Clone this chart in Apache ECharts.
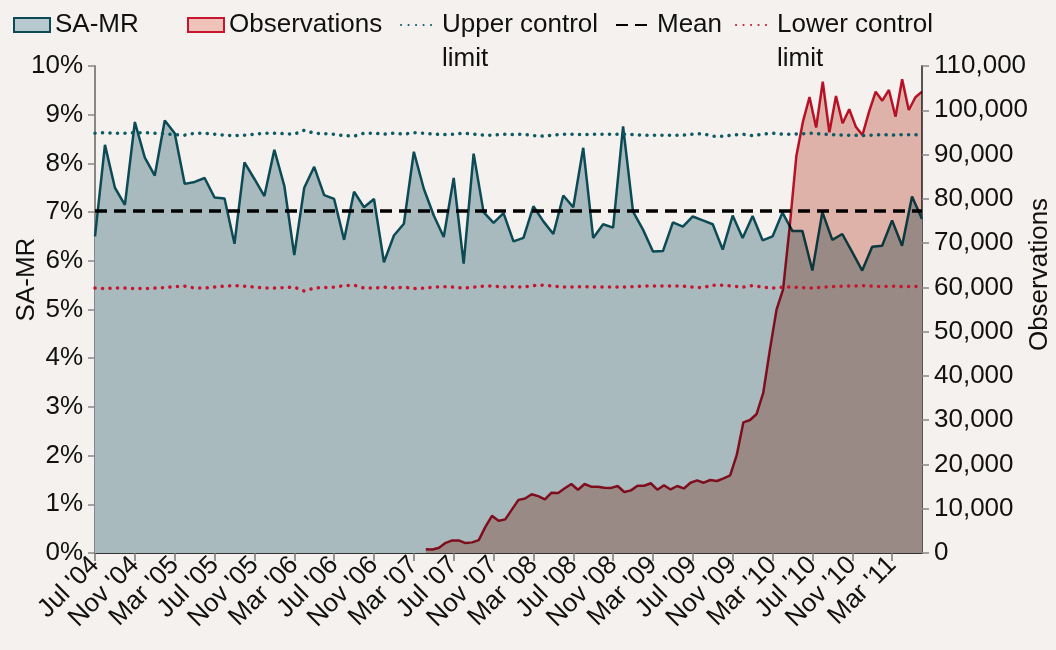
<!DOCTYPE html>
<html>
<head>
<meta charset="utf-8">
<script src="https://cdn.jsdelivr.net/npm/echarts@6/dist/echarts.min.js"></script>
<style>
  html, body { margin: 0; padding: 0; background: #f4f1ee; }
  #chart { width: 1056px; height: 650px; }
</style>
</head>
<body>
<div id="chart"></div>
<script>
// Monthly categories Jul '04 .. Jun '11
const months = [
  "Jul '04","Aug '04","Sep '04","Oct '04","Nov '04","Dec '04",
  "Jan '05","Feb '05","Mar '05","Apr '05","May '05","Jun '05","Jul '05","Aug '05","Sep '05","Oct '05","Nov '05","Dec '05",
  "Jan '06","Feb '06","Mar '06","Apr '06","May '06","Jun '06","Jul '06","Aug '06","Sep '06","Oct '06","Nov '06","Dec '06",
  "Jan '07","Feb '07","Mar '07","Apr '07","May '07","Jun '07","Jul '07","Aug '07","Sep '07","Oct '07","Nov '07","Dec '07",
  "Jan '08","Feb '08","Mar '08","Apr '08","May '08","Jun '08","Jul '08","Aug '08","Sep '08","Oct '08","Nov '08","Dec '08",
  "Jan '09","Feb '09","Mar '09","Apr '09","May '09","Jun '09","Jul '09","Aug '09","Sep '09","Oct '09","Nov '09","Dec '09",
  "Jan '10","Feb '10","Mar '10","Apr '10","May '10","Jun '10","Jul '10","Aug '10","Sep '10","Oct '10","Nov '10","Dec '10",
  "Jan '11","Feb '11","Mar '11","Apr '11","May '11","Jun '11"
];

// SA-MR (%), one value per month
const samr = [
  6.5, 8.38, 7.5, 7.15, 8.85, 8.12, 7.75, 8.88, 8.62, 7.58,
  7.62, 7.7, 7.3, 7.28, 6.35, 8.02, 7.68, 7.33, 8.28, 7.54,
  6.12, 7.5, 7.93, 7.35, 7.27, 6.43, 7.42, 7.1, 7.27, 5.97,
  6.52, 6.76, 8.24, 7.48, 6.93, 6.49, 7.7, 5.94, 8.2, 7.0,
  6.78, 6.98, 6.4, 6.47, 7.12, 6.81, 6.55, 7.34, 7.1, 8.32,
  6.47, 6.75, 6.68, 8.76, 7.01, 6.64, 6.19, 6.2, 6.79, 6.7,
  6.91, 6.83, 6.75, 6.23, 6.93, 6.47, 6.92, 6.42, 6.5, 6.99,
  6.61, 6.61, 5.8, 7.0, 6.43, 6.55, 6.18, 5.8, 6.29, 6.31,
  6.83, 6.31, 7.32, 6.86
];

// Upper / lower control limits (%), per month
const ucl = [
  8.62, 8.63, 8.62, 8.62, 8.63, 8.63, 8.62, 8.61, 8.59, 8.58,
  8.62, 8.62, 8.60, 8.58, 8.57, 8.58, 8.60, 8.62, 8.62, 8.61,
  8.60, 8.68, 8.62, 8.61, 8.60, 8.57, 8.56, 8.62, 8.62, 8.60,
  8.62, 8.60, 8.63, 8.62, 8.60, 8.59, 8.60, 8.62, 8.60, 8.58,
  8.58, 8.60, 8.59, 8.60, 8.57, 8.56, 8.58, 8.60, 8.60, 8.59,
  8.60, 8.60, 8.60, 8.60, 8.59, 8.58, 8.58, 8.58, 8.58, 8.58,
  8.60, 8.61, 8.56, 8.56, 8.58, 8.60, 8.57, 8.60, 8.62, 8.60,
  8.60, 8.61, 8.62, 8.60, 8.59, 8.58, 8.58, 8.57, 8.58, 8.59,
  8.58, 8.59, 8.59, 8.58
];
const lcl = [
  5.44, 5.43, 5.44, 5.44, 5.43, 5.43, 5.44, 5.45, 5.47, 5.48,
  5.44, 5.44, 5.46, 5.48, 5.49, 5.48, 5.46, 5.44, 5.44, 5.45,
  5.46, 5.38, 5.44, 5.45, 5.46, 5.49, 5.50, 5.44, 5.44, 5.46,
  5.44, 5.46, 5.43, 5.44, 5.46, 5.47, 5.46, 5.44, 5.46, 5.48,
  5.48, 5.46, 5.47, 5.46, 5.49, 5.50, 5.48, 5.46, 5.46, 5.47,
  5.46, 5.46, 5.46, 5.46, 5.47, 5.48, 5.48, 5.48, 5.48, 5.48,
  5.46, 5.45, 5.50, 5.50, 5.48, 5.46, 5.49, 5.46, 5.44, 5.46,
  5.46, 5.45, 5.44, 5.46, 5.47, 5.48, 5.48, 5.49, 5.48, 5.47,
  5.48, 5.47, 5.47, 5.48
];
const meanValue = 7.03;

// Observations: finer time grid (sub-monthly readings) on a hidden axis
const obsSlotCount = 126;      // reading slots covering the whole period
const obsFirstSlot = 50;       // first slot with an observation (Mar '07)
const observations = [
  850, 800, 1200, 2300, 2850, 2850, 2250, 2400, 2900, 5900,
  8400, 7300, 7600, 9800, 12000, 12300, 13260, 12850, 12130, 13620,
  13550, 14620, 15590, 14300, 15590, 14980, 14980, 14720, 14700, 15130,
  13780, 14150, 15170, 15200, 15750, 14300, 15320, 14350, 15130, 14580,
  15880, 16400, 15880, 16490, 16260, 16870, 17550, 22140, 29520, 30040,
  31400, 36150, 45860, 54890, 59570, 73700, 89600, 97430, 103000, 96100,
  106470, 95030, 103240, 97070, 100230, 96300, 94420, 99690, 104210, 102170,
  104590, 98560, 107010, 100070, 102940, 104210
];

const obsSlots = [];
const obsData = [];
for (let i = 0; i < obsSlotCount; i++) {
  obsSlots.push('s' + i);
  const k = i - obsFirstSlot;
  obsData.push(k >= 0 && k < observations.length ? observations[k] : null);
}

const FONT = "'Liberation Sans', Arial, sans-serif";
const FS = 26;
const TXT = '#111';
const C_SAMR_LINE = '#0c4a56';
const C_SAMR_AREA = '#a9babe';
const C_OBS_LINE = '#c8152f';
const C_OBS_AREA = '#e8bdb4';
const C_UCL = '#0d5a63';
const C_LCL = '#c8152f';

const chart = echarts.init(document.getElementById('chart'), null, { renderer: 'canvas' });

const richBase = { fontSize: FS, fontFamily: FONT, color: TXT, lineHeight: 34 };
const legendText = {
  'SA-MR': '{a|SA-MR}',
  'Observations': '{b|Observations}',
  'Upper control limit': '{c| }\n{c|Upper control}\n{c|limit}',
  'Mean': '{d|Mean}',
  'Lower control limit': '{e| }\n{e|Lower control}\n{e|limit}'
};

chart.setOption({
  backgroundColor: '#f4f1ee',
  animation: false,
  textStyle: { fontFamily: FONT },
  legend: {
    left: 8,
    top: -31,
    itemWidth: 36,
    itemHeight: 14,
    itemGap: 8,
    textStyle: {
      fontSize: FS, color: TXT, fontFamily: FONT, lineHeight: 34,
      rich: {
        a: Object.assign({ width: 124 }, richBase),
        b: Object.assign({ width: 163 }, richBase),
        c: Object.assign({ width: 165 }, richBase),
        d: Object.assign({ width: 70 }, richBase),
        e: Object.assign({}, richBase)
      }
    },
    formatter: name => legendText[name] || name,
    data: [
      { name: 'SA-MR', icon: 'rect', itemStyle: { color: '#b7c8ce', borderColor: C_SAMR_LINE, borderWidth: 2 } },
      { name: 'Observations', icon: 'rect', itemStyle: { color: '#f0c3ba', borderColor: C_OBS_LINE, borderWidth: 2 } },
      { name: 'Upper control limit', itemStyle: { opacity: 0 } },
      { name: 'Mean', itemStyle: { opacity: 0 } },
      { name: 'Lower control limit', itemStyle: { opacity: 0 } }
    ]
  },
  grid: { left: 95, right: 134, top: 66, bottom: 97, outerBoundsMode: 'none', containLabel: false },
  xAxis: [
    {
      type: 'category',
      data: months,
      boundaryGap: false,
      axisLine: { show: true, lineStyle: { color: '#333', width: 2 } },
      axisTick: { show: true, interval: 3, length: 8, lineStyle: { color: '#777', width: 1.5 } },
      axisLabel: { interval: 3, rotate: 45, fontSize: FS, color: TXT, margin: 8, fontFamily: FONT },
      splitLine: { show: false }
    },
    {
      type: 'category',
      data: obsSlots,
      boundaryGap: false,
      show: false
    }
  ],
  yAxis: [
    {
      type: 'value',
      min: 0, max: 10, interval: 1,
      name: 'SA-MR',
      nameLocation: 'middle',
      nameGap: 55,
      nameRotate: 90,
      nameMoveOverlap: false,
      nameTextStyle: { fontSize: FS, color: TXT, fontFamily: FONT, padding: [0, 0, 0, 60] },
      axisLine: { show: true, lineStyle: { color: '#888', width: 2 } },
      axisTick: { show: true, length: 7, lineStyle: { color: '#888', width: 1.5 } },
      axisLabel: { formatter: '{value}%', fontSize: FS, color: TXT, margin: 12, fontFamily: FONT },
      splitLine: { show: false }
    },
    {
      type: 'value',
      position: 'right',
      min: 0, max: 110000, interval: 10000,
      name: 'Observations',
      nameLocation: 'middle',
      nameGap: 105,
      nameRotate: 90,
      nameMoveOverlap: false,
      nameTextStyle: { fontSize: FS, color: TXT, fontFamily: FONT, padding: [0, 0, 0, 70] },
      axisLine: { show: true, lineStyle: { color: '#555', width: 2 } },
      axisTick: { show: true, length: 7, lineStyle: { color: '#888', width: 1.5 } },
      axisLabel: { formatter: v => v.toLocaleString('en-US'), fontSize: FS, color: TXT, margin: 12, fontFamily: FONT },
      splitLine: { show: false }
    }
  ],
  series: [
    {
      name: 'SA-MR',
      type: 'line',
      xAxisIndex: 0, yAxisIndex: 0,
      data: samr,
      symbol: 'none',
      lineStyle: { color: C_SAMR_LINE, width: 2.5 },
      itemStyle: { color: C_SAMR_LINE },
      areaStyle: { color: C_SAMR_AREA, opacity: 1 },
      z: 2
    },
    {
      name: 'Observations',
      type: 'line',
      xAxisIndex: 1, yAxisIndex: 1,
      data: obsData,
      symbol: 'none',
      connectNulls: false,
      lineStyle: { color: C_OBS_LINE, width: 2.5 },
      itemStyle: { color: C_OBS_LINE },
      areaStyle: { color: C_OBS_AREA, opacity: 1 },
      blendMode: 'multiply',
      z: 3
    },
    {
      name: 'Upper control limit',
      type: 'line',
      xAxisIndex: 0, yAxisIndex: 0,
      data: ucl,
      symbol: 'none',
      lineStyle: { color: C_UCL, width: 3.5, type: [0.1, 7.4], cap: 'round' },
      itemStyle: { color: C_UCL },
      z: 5
    },
    {
      name: 'Mean',
      type: 'line',
      xAxisIndex: 0, yAxisIndex: 0,
      data: [],
      symbol: 'none',
      lineStyle: { color: '#000', width: 3.5, type: [12, 7] },
      itemStyle: { color: '#000' },
      markLine: {
        silent: true,
        symbol: ['none', 'none'],
        label: { show: false },
        lineStyle: { color: '#000', width: 3.5, type: [12, 7] },
        data: [{ yAxis: meanValue }]
      },
      z: 5
    },
    {
      name: 'Lower control limit',
      type: 'line',
      xAxisIndex: 0, yAxisIndex: 0,
      data: lcl,
      symbol: 'none',
      lineStyle: { color: C_LCL, width: 3.5, type: [0.1, 7.4], cap: 'round' },
      itemStyle: { color: C_LCL },
      z: 5
    }
  ]
});
</script>
</body>
</html>
